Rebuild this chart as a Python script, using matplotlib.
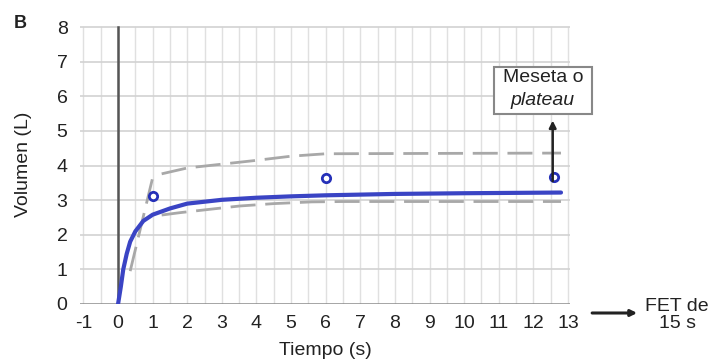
import numpy as np
import matplotlib
matplotlib.use("Agg")
import matplotlib.pyplot as plt
from matplotlib.patches import Rectangle

plt.rcParams["font.family"] = ["Liberation Sans", "DejaVu Sans"]
plt.rcParams["lines.scale_dashes"] = False
plt.rcParams["axes.unicode_minus"] = False

# blue fitted curve
t_curve = [0, 0.08, 0.15, 0.25, 0.35, 0.5, 0.73, 1.0, 1.5, 2, 3, 4, 5, 6, 8, 10, 12.8]
v_curve = [0, 0.5, 1.0, 1.45, 1.8, 2.1, 2.4, 2.58, 2.76, 2.9, 3.01, 3.07, 3.11, 3.14, 3.18, 3.2, 3.22]

# measured points
t_pts = [1.0, 6.0, 12.6]
v_pts = [3.12, 3.63, 3.68]

# gray dashed envelopes
t_rise = [0.35, 1.0]
v_rise = [0.95, 3.65]
t_upper = [1.26, 2, 3, 4, 5, 6, 9, 12.8]
v_upper = [3.76, 3.93, 4.04, 4.15, 4.27, 4.34, 4.35, 4.36]
t_lower = [1.26, 1.8, 2.6, 3.5, 4.5, 5.6, 6.5, 12.8]
v_lower = [2.57, 2.64, 2.73, 2.83, 2.9, 2.95, 2.96, 2.96]

xticks = list(range(-1, 14))
yticks = list(range(0, 9))

FS = 14
TXT = "#222222"

W, H = 711, 361
fig = plt.figure(figsize=(W / 100, H / 100), dpi=100)
ax = fig.add_axes([80 / W, (H - 304) / H, 490 / W, 279 / H])
ax.set_xlim(-1.1, 13.06)
ax.set_ylim(0, 8.06)

# grid
for x in np.arange(-1, 13.01, 0.5):
    ax.plot([x, x], [0, 8], color="#e0e0e0", lw=1, zorder=0)
for y in yticks[1:]:
    ax.plot([-1.1, 13.06], [y, y], color="#d2d2d2", lw=1.2, zorder=0)

# axes lines
ax.plot([-1.1, 13.06], [0, 0], color="#8a8a8a", lw=1.8, zorder=1)
ax.plot([0, 0], [0, 8], color="#555555", lw=1.8, zorder=1)

dash_kw = dict(color="#a8a8a8", lw=2, dashes=(18, 7), zorder=2)
ax.plot(t_rise, v_rise, **dash_kw)
ax.plot(t_upper, v_upper, **dash_kw)
ax.plot(t_lower, v_lower, **dash_kw)

ax.plot(t_curve, v_curve, color="#3a44c4", lw=3, zorder=3, solid_capstyle="round")
ax.plot(t_pts, v_pts, "o", ms=6, mfc="white", mec="#2530b8", mew=2, zorder=4)

for s in ax.spines.values():
    s.set_visible(False)
ax.set_xticks(xticks)
ax.set_yticks(yticks)
ax.tick_params(length=0, labelsize=FS, colors=TXT, pad=8)
ax.tick_params(axis="y", pad=9)

ax.set_xlabel("Tiempo (s)", fontsize=FS, color=TXT)
ax.xaxis.set_label_coords(0.5, -0.135)
ax.set_ylabel("Volumen (L)", fontsize=FS, color=TXT)
ax.yaxis.set_label_coords(-0.098, 0.5)

# plateau annotation
ax.annotate("", xy=(12.56, 5.3), xytext=(12.56, 3.55),
            arrowprops=dict(arrowstyle="-|>", color=TXT, lw=1.8,
                            mutation_scale=10, shrinkA=0, shrinkB=0),
            annotation_clip=False, zorder=5)
ax.add_patch(Rectangle((10.87, 5.49), 2.83, 1.36, fill=True, facecolor="white",
                       edgecolor="#888888", lw=1.5, clip_on=False, zorder=5))
ax.text(12.28, 6.55, "Meseta o", ha="center", va="center", fontsize=FS,
        color=TXT, zorder=6, clip_on=False)
ax.text(12.28, 5.88, "plateau", ha="center", va="center", fontsize=FS,
        style="italic", color=TXT, zorder=6, clip_on=False)

# FET arrow
ax.annotate("", xy=(15.0, -0.26), xytext=(13.7, -0.26),
            arrowprops=dict(arrowstyle="-|>", color=TXT, lw=2.2,
                            mutation_scale=9, shrinkA=0, shrinkB=0),
            annotation_clip=False)
ax.text(16.16, -0.33, "FET de\n15 s", ha="center", va="center", fontsize=FS,
        multialignment="center", color=TXT, linespacing=1.0, clip_on=False)

fig.text(20 / W, 1 - 23 / H, "B", ha="center", va="center", fontsize=13,
         fontweight="bold", color=TXT)

fig.savefig("out.png", dpi=100)
